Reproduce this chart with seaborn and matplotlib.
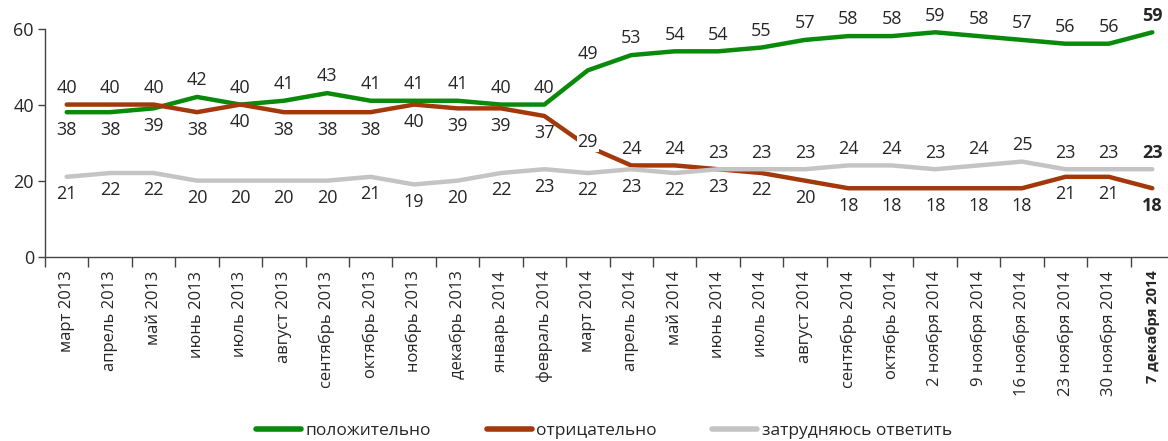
import matplotlib
matplotlib.use('Agg')
import matplotlib.pyplot as plt
import seaborn as sns
import pandas as pd
from matplotlib.ticker import FixedLocator

periods = ['март 2013', 'апрель 2013', 'май 2013', 'июнь 2013', 'июль 2013',
           'август 2013', 'сентябрь 2013', 'октябрь 2013', 'ноябрь 2013',
           'декабрь 2013', 'январь 2014', 'февраль 2014', 'март 2014',
           'апрель 2014', 'май 2014', 'июнь 2014', 'июль 2014', 'август 2014',
           'сентябрь 2014', 'октябрь 2014', '2 ноября 2014', '9 ноября 2014',
           '16 ноября 2014', '23 ноября 2014', '30 ноября 2014', '7 декабря 2014']
positive = [38, 38, 39, 42, 40, 41, 43, 41, 41, 41, 40, 40, 49,
            53, 54, 54, 55, 57, 58, 58, 59, 58, 57, 56, 56, 59]
negative = [40, 40, 40, 38, 40, 38, 38, 38, 40, 39, 39, 37, 29,
            24, 24, 23, 22, 20, 18, 18, 18, 18, 18, 21, 21, 18]
undecided = [21, 22, 22, 20, 20, 20, 20, 21, 19, 20, 22, 23, 22,
             23, 22, 23, 23, 23, 24, 24, 23, 24, 25, 23, 23, 23]

series_names = ['положительно', 'отрицательно', 'затрудняюсь ответить']
colors = ['#0a8a0a', '#a3380b', '#c4c4c4']

sns.set_style('ticks')
plt.rcParams['font.family'] = ['Open Sans', 'DejaVu Sans']

df = pd.DataFrame({
    'period': periods * 3,
    'value': positive + negative + undecided,
    'series': [s for s in series_names for _ in periods],
})

fig = plt.figure(figsize=(11.68, 4.41), dpi=100)
ax = fig.add_axes([45 / 1168, 1 - 256.7 / 441, (1174 - 45) / 1168, (256.7 - 28.5) / 441])

sns.lineplot(data=df, x='period', y='value', hue='series', palette=colors,
             linewidth=3.2, sort=False, ax=ax)
handles, labels = ax.get_legend_handles_labels()
ax.get_legend().remove()

n = len(periods)
ax.set_xlim(-0.5, n - 0.5)
ax.set_ylim(0, 60)
ax.set_yticks([0, 20, 40, 60])
ax.set_xlabel('')
ax.set_ylabel('')
sns.despine(ax=ax)
for side in ['left', 'bottom']:
    ax.spines[side].set_color('#444444')
    ax.spines[side].set_linewidth(1)

ax.tick_params(axis='y', length=5, width=1, color='#444444', labelsize=13, pad=3)
ax.tick_params(axis='x', which='major', length=0, pad=10, labelsize=12)
ax.xaxis.set_minor_locator(FixedLocator([i - 0.5 for i in range(n + 1)]))
ax.tick_params(axis='x', which='minor', length=7, width=1, color='#444444')
ax.set_xticks(range(n))
ax.set_xticklabels(periods, rotation=90, va='top', ha='center')
last = ax.get_xticklabels()[-1]
last.set_fontweight('bold')
last.set_fontsize(10.5)

# data labels: highest above, lowest below, middle goes to the side away from its neighbour
inline_labels = {(1, 12)}  # (series, point) drawn on the line with a white patch
series_vals = [positive, negative, undecided]
for i in range(n):
    vals = [s[i] for s in series_vals]
    top, mid, bot = sorted(range(3), key=lambda k: vals[k], reverse=True)
    weight = 'bold' if i == n - 1 else 'normal'
    for k in range(3):
        v = vals[k]
        box = None
        if (k, i) in inline_labels:
            off = 3
            box = dict(facecolor='white', edgecolor='none', pad=0.5)
        elif k == top:
            off = 12
        elif k == bot:
            off = -12.5
        elif vals[top] - v <= v - vals[bot]:
            off = -12.5
        else:
            off = 12
        ax.annotate(str(v), (i, v), xytext=(0, off), textcoords='offset points',
                    ha='center', va='center', fontsize=13, fontweight=weight,
                    bbox=box, zorder=5)

fig.legend(handles, labels, loc='center', bbox_to_anchor=(604 / 1168, 10 / 441),
           ncol=3, frameon=False, fontsize=12.5, handlelength=2.6,
           handletextpad=0.25, columnspacing=3.2)
for h in fig.legends[0].get_lines():
    h.set_linewidth(4)

fig.savefig('out.png', dpi=100)
